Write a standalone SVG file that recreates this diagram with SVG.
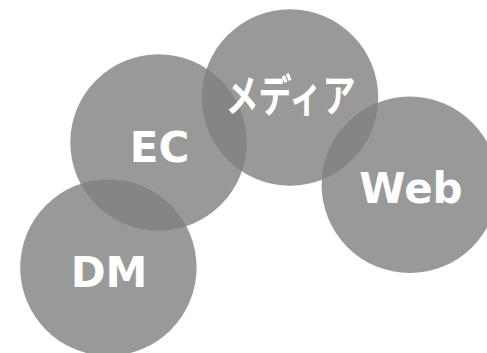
<svg xmlns="http://www.w3.org/2000/svg" width="487" height="353" viewBox="0 0 487 353">
<style>
.c{fill:#808080;fill-opacity:0.8}
.t{fill:#ffffff;font-family:"DejaVu Sans","Noto Sans CJK JP",sans-serif;font-weight:bold;font-size:42px;text-anchor:middle}
.j{fill:#ffffff;font-family:"Noto Sans CJK JP",sans-serif;font-weight:bold;font-size:44px;text-anchor:middle}
</style>
<rect width="487" height="353" fill="#ffffff"/>
<g id="node-ec"><circle class="c" cx="158.5" cy="142.5" r="88.2"/></g>
<g id="node-media"><circle class="c" cx="290" cy="97.5" r="88.2"/></g>
<g id="node-web"><circle class="c" cx="409.8" cy="184.8" r="88.2"/></g>
<g id="node-dm"><circle class="c" cx="108.4" cy="267.6" r="88.2"/></g>
<g id="labels">
<text class="t" x="159.5" y="162.3">EC</text>
<text class="j" x="290.5" y="112" textLength="130" lengthAdjust="spacingAndGlyphs">メディア</text>
<text class="t" x="411" y="203.3">Web</text>
<text class="t" x="109" y="286.7">DM</text>
</g>
<g id="connectors"></g>
</svg>
